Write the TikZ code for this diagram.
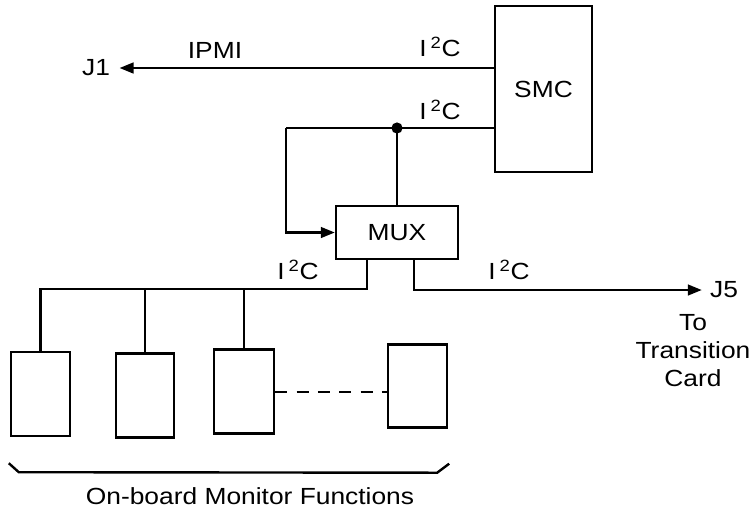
\documentclass[tikz,border=0pt]{standalone}
\usepackage{fontspec}
\setmainfont{Liberation Sans}[FakeStretch=1.13]
\usetikzlibrary{arrows.meta}
\begin{document}
\begin{tikzpicture}[x=0.75pt,y=-0.75pt,
  every node/.style={font=\fontsize{17.5}{21}\selectfont},
  wire/.style={line width=1.8pt},
  arr/.style={wire,-{Triangle[length=10.5pt,width=8pt]}},
  blk/.style={draw,line width=1.8pt,inner sep=0pt},
  lbl/.style={inner sep=0pt}]
\useasboundingbox (0,0) rectangle (754,512);
% boxes
\node[blk,minimum width=72.75pt,minimum height=124.5pt] (SMC) at (543.5,89) {SMC};
\node[blk,minimum width=91.5pt,minimum height=39.75pt] (MUX) at (397,232.5) {MUX};
\node[blk,minimum width=44.25pt,minimum height=63pt] (b1) at (40.5,394) {};
\node[blk,minimum width=43.5pt,minimum height=63pt] (b2) at (145,395.5) {};
\node[blk,minimum width=45pt,minimum height=63pt] (b3) at (244,391.5) {};
\node[blk,minimum width=44.25pt,minimum height=62.25pt] (b4) at (417.5,386) {};
% end labels
\node[lbl] (J1) at (96,68) {J1};
\node[lbl] (J5) at (724,290) {J5};
\node[lbl,align=center] (tc) at (693,351) {To\\Transition\\Card};
% coordinates
\coordinate (dot) at (397,128);
\coordinate (loop) at (286,128);
\coordinate (busL) at (367,289);
\coordinate (busR) at (414,290);
% connectors
\draw[arr] (SMC.west |- J1) -- ([xshift=7pt]J1.east);
\draw[wire] (SMC.west |- dot) -- (loop);
\draw[arr] (loop) |- (MUX.west);
\draw[wire] (dot) -- (MUX.north);
\fill (dot) circle (4.2pt);
\draw[wire] (MUX.south -| busL) -- (busL) -| (b1.north);
\draw[wire] (b2.north) -- (b2.north |- busL);
\draw[wire] (b3.north) -- (b3.north |- busL);
\draw[arr] (MUX.south -| busR) |- ([xshift=-6pt]J5.west);
\draw[wire,dashed,dash pattern=on 9pt off 7pt] (b3.east |- 0,392) -- (b4.west |- 0,392);
% brace
\draw[wire] ([shift={(-1,26)}]b1.south west) -- ++(10,9)
  -- ([shift={(-11,44)}]b4.south east) -- ([shift={(1,35)}]b4.south east);
% labels
\node[lbl] (ipmi) at (215,50) {IPMI};
\node[lbl] (c1) at (440,47) {I\,\textsuperscript{2}C};
\node[lbl] (c2) at (440,110) {I\,\textsuperscript{2}C};
\node[lbl] (c3) at (298,270) {I\,\textsuperscript{2}C};
\node[lbl] (c4) at (509,270) {I\,\textsuperscript{2}C};
\node[lbl] (obm) at (250,496) {On-board Monitor Functions};
\end{tikzpicture}
\end{document}
